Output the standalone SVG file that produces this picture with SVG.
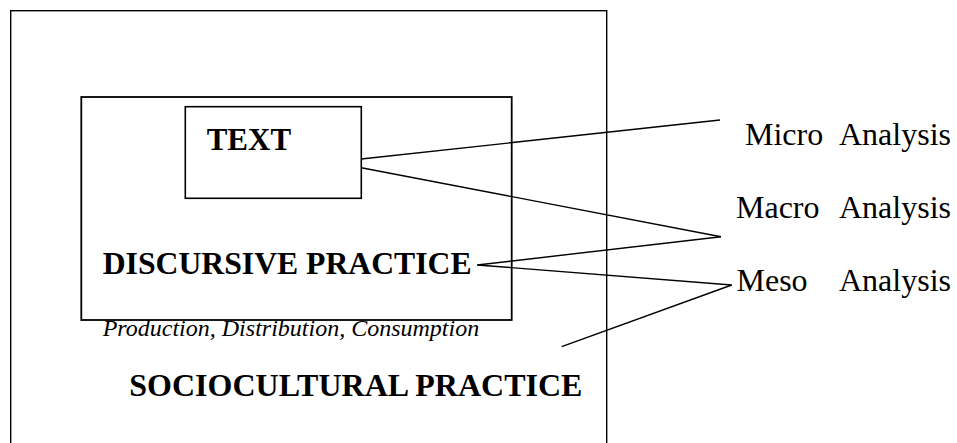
<svg xmlns="http://www.w3.org/2000/svg" width="957" height="443" viewBox="0 0 957 443">
<style>
.box{fill:none;stroke:#000}
.b{font-family:"Liberation Serif","Times New Roman",serif;font-weight:bold;fill:#000}
.r{font-family:"Liberation Serif","Times New Roman",serif;fill:#000}
.i{font-family:"Liberation Serif","Times New Roman",serif;font-style:italic;fill:#000}
.c{stroke:#000;stroke-width:1.4;fill:none}
</style>
<rect width="957" height="443" fill="#fff"/>
<g id="sociocultural">
<rect class="box" x="10.7" y="10.7" width="596" height="445" stroke-width="1.4"/>
<text class="b" x="129.3" y="396" font-size="32">SOCIOCULTURAL PRACTICE</text>
</g>
<g id="discursive">
<rect class="box" x="81.3" y="97" width="430.4" height="223" stroke-width="1.8"/>
<text class="b" x="102.7" y="274.3" font-size="31.7">DISCURSIVE PRACTICE</text>
<text class="i" x="102.7" y="336" font-size="24">Production, Distribution, Consumption</text>
</g>
<g id="text">
<rect class="box" x="185.3" y="106.7" width="176" height="91.6" stroke-width="1.6"/>
<text class="b" x="206.7" y="150" font-size="31">TEXT</text>
</g>
<g id="micro">
<text class="r" y="145" font-size="32"><tspan x="745">Micro </tspan><tspan x="839">Analysis</tspan></text>
</g>
<g id="macro">
<text class="r" y="218" font-size="32"><tspan x="736">Macro </tspan><tspan x="839">Analysis</tspan></text>
</g>
<g id="meso">
<text class="r" y="291" font-size="32"><tspan x="736.5">Meso </tspan><tspan x="839">Analysis</tspan></text>
</g>
<g id="connectors">
<line class="c" x1="361.3" y1="159" x2="720" y2="120"/>
<line class="c" x1="361.3" y1="167.7" x2="721" y2="236.7"/>
<line class="c" x1="477.3" y1="265" x2="721" y2="236.7"/>
<line class="c" x1="477.3" y1="265" x2="731.7" y2="285"/>
<line class="c" x1="731.7" y1="285" x2="561.7" y2="346.7"/>
</g>
</svg>
